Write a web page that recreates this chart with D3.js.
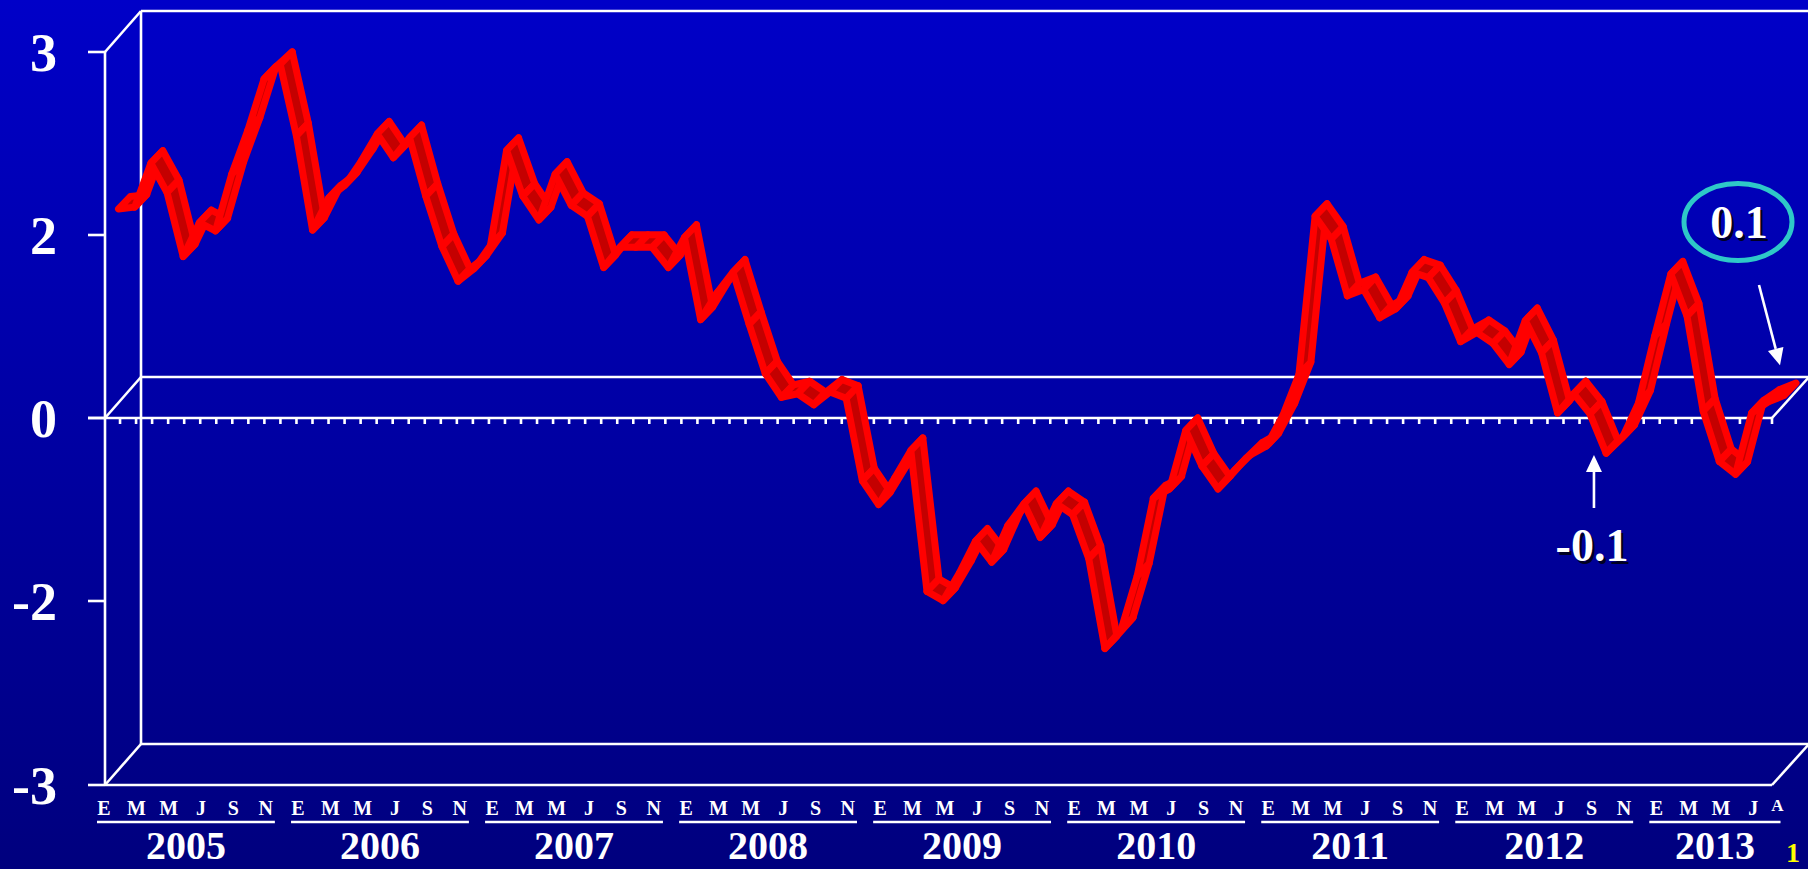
<!DOCTYPE html>
<html>
<head>
<meta charset="utf-8">
<script src="https://cdn.jsdelivr.net/npm/d3@7"></script>
<style>
  html, body { margin: 0; padding: 0; overflow: hidden; background: #000080; }
  svg { display: block; }
  text { font-family: "Liberation Serif", "Times New Roman", serif; font-weight: bold; }
</style>
</head>
<body>
<svg id="chart" width="1808" height="869"></svg>
<script>
// ---- data: monthly values, one array per year ----
const years = ["2005", "2006", "2007", "2008", "2009", "2010", "2011", "2012", "2013"];
const monthInitials = ["E", "F", "M", "A", "M", "J", "J", "A", "S", "O", "N", "D"];
const labelledMonths = [0, 2, 4, 6, 8, 10];   // E M M J S N

const v2005 = [2.07, 2.08, 2.32, 2.16, 1.62, 1.99, 1.90, 2.26, 2.50, 2.78, 2.86, 2.47];
const v2006 = [1.91, 2.13, 2.20, 2.33, 2.48, 2.35, 2.46, 2.14, 1.73, 1.35, 1.49, 1.74];
const v2007 = [2.39, 2.14, 2.01, 2.26, 2.09, 2.03, 1.50, 1.72, 1.72, 1.72, 1.50, 1.83];
const v2008 = [0.93, 1.22, 1.45, 0.88, 0.34, 0.08, 0.12, 0.00, 0.14, 0.07, -0.83, -1.09];
const v2009 = [-0.80, -0.50, -2.02, -2.07, -1.84, -1.49, -1.72, -1.32, -1.08, -1.45, -1.08, -1.20];
const v2010 = [-1.68, -2.33, -2.23, -1.87, -1.02, -0.92, -0.28, -0.67, -0.92, -0.72, -0.55, -0.45];
const v2011 = [-0.12, 0.33, 2.03, 1.81, 1.19, 1.26, 0.95, 1.05, 1.45, 1.39, 1.11, 0.69];
const v2012 = [0.79, 0.67, 0.44, 0.92, 0.57, -0.09, 0.12, -0.10, -0.53, -0.36, 0.02, 0.75];
const v2013 = [1.43, 0.97, -0.07, -0.62, -0.76, -0.09, 0.03, 0.10];
const valuesByYear = [v2005, v2006, v2007, v2008, v2009, v2010, v2011, v2012, v2013];

const yTickValues = [3, 2, 0, -2, -3];

// callouts: which month they point at and the text shown
const calloutMonths = ["2013-08", "2012-08"];
const calloutTexts = ["0.1", "-0.1"];

// ---- flatten into month records ----
const data = [];
valuesByYear.forEach((vals, yi) => {
  vals.forEach((v, m) => {
    data.push({ key: years[yi] + "-" + String(m + 1).padStart(2, "0"), year: years[yi], month: m, value: v });
  });
});
const keys = data.map(d => d.key);

// ---- layout ----
const W = 1808, H = 869;
const svg = d3.select("#chart");

const defs = svg.append("defs");
const bg = defs.append("linearGradient").attr("id", "bg").attr("x1", 0).attr("y1", 0).attr("x2", 0).attr("y2", 1);
bg.append("stop").attr("offset", "0%").attr("stop-color", "#0000c8");
bg.append("stop").attr("offset", "100%").attr("stop-color", "#00007e");
svg.append("rect").attr("width", W).attr("height", H).attr("fill", "url(#bg)");

// value axis: evenly spaced labelled steps
const y = d3.scaleLinear().domain([-3, -2, 0, 2, 3]).range([785, 601, 418, 235, 52]);
// floor categories and label positions
const xBand = d3.scaleBand().domain(keys).range([104, 1772]);
const xLab = d3.scalePoint().domain(keys).range([104, 1769.5]);

// 3-D depth of the box, and placement of the ribbon inside it
const depth = { dx: 37, dy: -41 };
const ribbonMid = { dx: 20.5, dy: -19.5 };
const ribbonHalf = { dx: 6, dy: -6.25 };

const x0 = xBand.range()[0], x1 = xBand.range()[1];
const yTop = y(3), yBot = y(-3), yZero = y(0);

const frame = svg.append("g").attr("stroke", "#ffffff").attr("stroke-width", 2.6).attr("fill", "none");
const seg = (a, b, c, d) => frame.append("line").attr("x1", a).attr("y1", b).attr("x2", c).attr("y2", d);

// back wall
seg(x0 + depth.dx, yTop + depth.dy, x0 + depth.dx, yBot + depth.dy);
seg(x0 + depth.dx, yTop + depth.dy, W + 2, yTop + depth.dy);
seg(x0 + depth.dx, yZero + depth.dy, x1 + depth.dx, yZero + depth.dy);
seg(x0 + depth.dx, yBot + depth.dy, x1 + depth.dx, yBot + depth.dy);
// side wall / floor edges
seg(x0 + 1, yTop, x0 + depth.dx, yTop + depth.dy);
seg(x0 + 1, yBot, x0 + depth.dx, yBot + depth.dy);
seg(x0 + 1, yZero, x0 + depth.dx, yZero + depth.dy);
seg(x1, yBot, x1 + depth.dx, yBot + depth.dy);
seg(x1, yZero, x1 + depth.dx, yZero + depth.dy);
// front edges
seg(x0 + 1, yTop, x0 + 1, yBot);
seg(x0 + 1, yBot, x1, yBot);

// value axis ticks and labels
yTickValues.forEach(t => {
  seg(x0 - 16, y(t), x0 + 1, y(t));
});
svg.append("g").selectAll("text").data(yTickValues).join("text")
  .attr("x", 57).attr("y", d => y(d)).attr("dy", "0.35em")
  .attr("text-anchor", "end").attr("fill", "#ffffff").attr("font-size", 54)
  .text(d => String(d));

// category axis at zero, with month ticks hanging below
seg(x0 - 16, yZero, x1, yZero);
svg.append("g").selectAll("line").data(keys).join("line")
  .attr("x1", (d, i) => x0 + xBand.step() * (i + 1))
  .attr("x2", (d, i) => x0 + xBand.step() * (i + 1))
  .attr("y1", yZero).attr("y2", yZero + 6)
  .attr("stroke", "#ffffff").attr("stroke-width", 2.6);

// ---- ribbon line ----
const centre = d => [xLab(d.key) + ribbonMid.dx, y(d.value) + ribbonMid.dy];
const ribbon = svg.append("g");
for (let i = 0; i < data.length - 1; i++) {
  const a = centre(data[i]), b = centre(data[i + 1]);
  const pts = [
    [a[0] - ribbonHalf.dx, a[1] - ribbonHalf.dy],
    [b[0] - ribbonHalf.dx, b[1] - ribbonHalf.dy],
    [b[0] + ribbonHalf.dx, b[1] + ribbonHalf.dy],
    [a[0] + ribbonHalf.dx, a[1] + ribbonHalf.dy]
  ];
  ribbon.append("polygon")
    .attr("points", pts.map(p => p.join(",")).join(" "))
    .attr("fill", "#c40000").attr("stroke", "#ff0000")
    .attr("stroke-width", 7).attr("stroke-linejoin", "round");
}

// ---- month letters and year labels ----
const lastIdx = data.length - 1;
const monthLabels = data.filter((d, i) => labelledMonths.includes(d.month) || i === lastIdx);
svg.append("g").selectAll("text").data(monthLabels).join("text")
  .attr("x", d => data.indexOf(d) === lastIdx ? xLab(d.key) + 8 : xLab(d.key))
  .attr("y", d => data.indexOf(d) === lastIdx ? 811 : 815)
  .attr("text-anchor", "middle").attr("fill", "#ffffff")
  .attr("font-size", d => data.indexOf(d) === lastIdx ? 17 : 20)
  .text(d => monthInitials[d.month]);

const yearGroups = years.map(yr => {
  const ms = data.filter(d => d.year === yr);
  const first = ms[0], last = ms[ms.length - 1];
  const xa = xLab(first.key) - 7;
  const xb = ms.length === 12 ? xLab(last.key) - 7 : xLab(last.key) + 11;
  return { yr, xa, xb };
});
svg.append("g").selectAll("line").data(yearGroups).join("line")
  .attr("x1", d => d.xa).attr("x2", d => d.xb)
  .attr("y1", 822).attr("y2", 822)
  .attr("stroke", "#ffffff").attr("stroke-width", 2.6);
svg.append("g").selectAll("text").data(yearGroups).join("text")
  .attr("x", d => (d.xa + d.xb) / 2).attr("y", 859)
  .attr("text-anchor", "middle").attr("fill", "#ffffff").attr("font-size", 40)
  .text(d => d.yr);

// ---- callouts ----
const shadowText = (g, tx, ty, str, size) => {
  g.append("text").attr("x", tx + 2.5).attr("y", ty + 2.5).attr("text-anchor", "middle")
    .attr("fill", "#000022").attr("font-size", size).text(str);
  g.append("text").attr("x", tx).attr("y", ty).attr("text-anchor", "middle")
    .attr("fill", "#ffffff").attr("font-size", size).text(str);
};
const arrow = (g, xa, ya, xb, yb) => {
  const ang = Math.atan2(yb - ya, xb - xa), L = 17, Wd = 8;
  const bx = xb - L * Math.cos(ang), by = yb - L * Math.sin(ang);
  g.append("line").attr("x1", xa).attr("y1", ya).attr("x2", bx).attr("y2", by)
    .attr("stroke", "#ffffff").attr("stroke-width", 2.6);
  g.append("polygon").attr("fill", "#ffffff").attr("points", [
    [xb, yb],
    [bx + Wd * Math.sin(ang), by - Wd * Math.cos(ang)],
    [bx - Wd * Math.sin(ang), by + Wd * Math.cos(ang)]
  ].map(p => p.join(",")).join(" "));
};

const call = svg.append("g");
const endPt = centre(data.find(d => d.key === calloutMonths[0]));
call.append("ellipse").attr("cx", 1738).attr("cy", 222).attr("rx", 54).attr("ry", 38.5)
  .attr("fill", "none").attr("stroke", "#2ec8c8").attr("stroke-width", 5);
shadowText(call, 1739, 238, calloutTexts[0], 46);
arrow(call, 1759, 285, endPt[0] - 10, endPt[1] - 24);

const lowPt = centre(data.find(d => d.key === calloutMonths[1]));
arrow(call, lowPt[0] - 2, 508, lowPt[0] - 2, 455);
shadowText(call, 1592, 561, calloutTexts[1], 46);

// page number in the corner
svg.append("text").attr("x", 1793).attr("y", 862).attr("text-anchor", "middle")
  .attr("fill", "#ffff00").attr("font-size", 28).text("1");
</script>
</body>
</html>
